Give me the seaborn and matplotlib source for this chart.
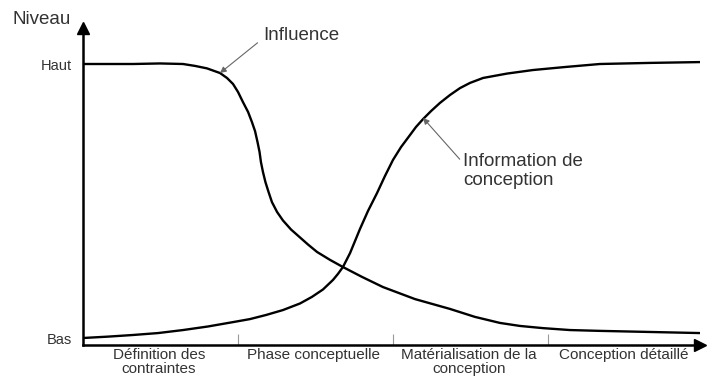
import numpy as np
import pandas as pd
from matplotlib import pyplot as plt
import seaborn as sns

# phase axis: 0 = start, each design phase is one unit wide
# level axis: 0 = "Bas", 1 = "Haut"
influence_x = [0.000, 0.174, 0.323, 0.497, 0.645, 0.723, 0.800, 0.884, 0.929, 0.968,
               1.000, 1.032, 1.065, 1.090, 1.110, 1.126, 1.139, 1.148, 1.161, 1.177,
               1.197, 1.219, 1.252, 1.290, 1.342, 1.400, 1.452, 1.510, 1.594, 1.677,
               1.800, 1.935, 2.142, 2.368, 2.529, 2.690, 2.819, 2.968, 3.142, 3.335,
               3.658, 3.981]
influence_y = [1.000, 1.000, 1.000, 1.002, 1.000, 0.993, 0.984, 0.967, 0.949, 0.927,
               0.898, 0.861, 0.825, 0.788, 0.755, 0.715, 0.679, 0.642, 0.606, 0.569,
               0.533, 0.496, 0.460, 0.429, 0.396, 0.367, 0.341, 0.314, 0.285, 0.259,
               0.223, 0.186, 0.142, 0.106, 0.077, 0.055, 0.044, 0.036, 0.029, 0.026,
               0.022, 0.018]

information_x = [0.000, 0.161, 0.323, 0.484, 0.645, 0.806, 0.968, 1.077, 1.181, 1.290,
                 1.400, 1.477, 1.548, 1.613, 1.645, 1.677, 1.723, 1.755, 1.787, 1.839,
                 1.897, 1.948, 2.000, 2.052, 2.110, 2.148, 2.194, 2.245, 2.303, 2.368,
                 2.432, 2.497, 2.581, 2.735, 2.903, 3.110, 3.335, 3.658, 3.981]
information_y = [0.000, 0.005, 0.011, 0.018, 0.029, 0.042, 0.058, 0.069, 0.084, 0.102,
                 0.126, 0.150, 0.177, 0.212, 0.234, 0.259, 0.310, 0.354, 0.398, 0.464,
                 0.529, 0.591, 0.650, 0.697, 0.741, 0.770, 0.799, 0.828, 0.858, 0.887,
                 0.912, 0.931, 0.949, 0.965, 0.978, 0.989, 1.000, 1.004, 1.007]

phase_bounds = [1, 2, 3]
phase_centres = [0.49, 1.49, 2.49, 3.49]
phase_labels = ['Définition des\ncontraintes', 'Phase conceptuelle',
                'Matérialisation de la\nconception', 'Conception détaillé']
level_ticks = [0, 1]
level_labels = ['Bas', 'Haut']

df = pd.concat([
    pd.DataFrame({'phase': influence_x, 'niveau': influence_y, 'courbe': 'Influence'}),
    pd.DataFrame({'phase': information_x, 'niveau': information_y, 'courbe': 'Information'}),
])

sns.set_style('white')
plt.rcParams['font.family'] = ['Liberation Sans', 'DejaVu Sans']
txt = '#333333'

W, H = 707, 380
fig = plt.figure(figsize=(W / 100, H / 100), dpi=100)
# axes placed in pixel terms: y axis at x=83, x axis at y=345
ax = fig.add_axes([83 / W, (H - 345) / H, (700 - 83) / W, (345 - 28) / H])

sns.lineplot(data=df, x='phase', y='niveau', units='courbe', estimator=None,
             color='black', lw=1.7, sort=False, ax=ax)

ax.set_xlim(0, (700 - 83) / 155)
ax.set_ylim((338 - 345) / 274, (338 - 28) / 274)

for s in ['top', 'right']:
    ax.spines[s].set_visible(False)
for s in ['left', 'bottom']:
    ax.spines[s].set_linewidth(1.8)
    ax.spines[s].set_color('black')

# arrow heads on the axes
ax.plot(1, 0, '>', color='black', ms=9, transform=ax.transAxes, clip_on=False)
ax.plot(0, 1, '^', color='black', ms=9, transform=ax.transAxes, clip_on=False)

ax.set_xticks(phase_bounds)
ax.set_xticklabels([])
ax.tick_params(axis='x', which='major', direction='in', length=8, width=0.8,
               color='#999999', bottom=True)
ax.set_xticks(phase_centres, minor=True)
ax.set_xticklabels(phase_labels, minor=True, fontsize=11, color=txt, linespacing=1.05)
ax.tick_params(axis='x', which='minor', length=0, pad=2)

ax.set_yticks(level_ticks)
ax.set_yticklabels(level_labels, fontsize=10.5, color=txt)
ax.tick_params(axis='y', length=0, pad=8)

ax.set_xlabel('')
ax.set_ylabel('')
ax.grid(False)

fig.text(13 / W, 1 - 20 / H, 'Niveau', fontsize=13.5, color=txt, va='center', ha='left')

ax.annotate('Influence', xy=(0.884, 0.967), xycoords='data',
            xytext=(263 / W, 1 - 35 / H), textcoords='figure fraction',
            fontsize=13.5, color=txt, va='center', ha='left',
            arrowprops=dict(arrowstyle='-|>', color='#666666', lw=0.8,
                            mutation_scale=9, shrinkA=2, shrinkB=0,
                            relpos=(0, 0.3)))

ax.annotate('Information de\nconception', xy=(2.194, 0.803), xycoords='data',
            xytext=(463 / W, 1 - 171 / H), textcoords='figure fraction',
            fontsize=13.5, color=txt, va='center', ha='left', linespacing=1.15,
            arrowprops=dict(arrowstyle='-|>', color='#666666', lw=0.8,
                            mutation_scale=9, shrinkA=0, shrinkB=0,
                            relpos=(-0.02, 0.8)))

fig.savefig('out.png', dpi=100)
